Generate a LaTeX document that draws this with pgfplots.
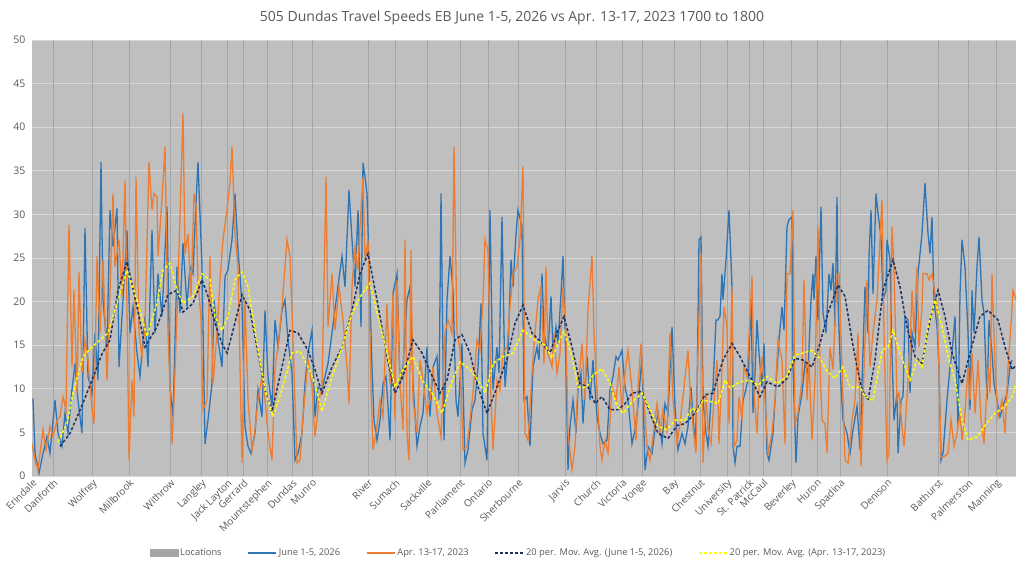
\documentclass[border=0pt]{standalone}
\usepackage{pgfplots}
\pgfplotsset{compat=1.18}
\usepackage{fontspec}
\setmainfont{Open Sans}
\definecolor{bgc}{RGB}{191,191,191}
\definecolor{gridc}{RGB}{217,217,217}
\definecolor{locc}{RGB}{165,165,165}
\definecolor{bluec}{RGB}{46,117,182}
\definecolor{orangec}{RGB}{237,125,49}
\definecolor{navyc}{RGB}{32,48,96}
\definecolor{yellowc}{RGB}{255,255,0}
\definecolor{txtc}{RGB}{89,89,89}
\begin{document}
\begin{tikzpicture}
\useasboundingbox (0,0) rectangle (1024bp,567bp);
\begin{axis}[
  at={(32bp,91bp)}, anchor=south west,
  scale only axis, width=984bp, height=436bp,
  xmin=32, xmax=1016, ymin=0, ymax=50,
  axis background/.style={fill=bgc},
  axis line style={draw=none},
  major tick length=0pt,
  ytick={0,5,...,50},
  /pgf/number format/assume math mode=true,
  ymajorgrids, grid style={gridc, line width=0.8bp},
  xtick={32,53,92,129,170,201,227,243,267,292,312,368,395,427,460,488,518,565,596,622,642,674,700,727,749,763,791,817,840,887,938,968,996},
  xticklabels={Erindale,Danforth,Wolfrey,Millbrook,Withrow,Langley,Jack Layton,Gerrard,Mountstephen,Dundas,Munro,River,Sumach,Sackville,Parliament,Ontario,Sherbourne,Jarvis,Church,Victoria,Yonge,Bay,Chestnut,University,St. Patrick,McCaul,Beverley,Huron,Spadina,Denison,Bathurst,Palmerston,Manning},
  xticklabel style={rotate=45, anchor=north east, font=\fontsize{10bp}{12bp}\selectfont, text=txtc, inner sep=1.5bp},
  yticklabel style={font=\fontsize{10.5bp}{13bp}\selectfont, text=txtc, xshift=-3bp},
  title={505 Dundas Travel Speeds EB June 1-5, 2026 vs Apr. 13-17, 2023 1700 to 1800},
  title style={at={(0.4878,1)}, anchor=center, yshift=16bp, font=\fontsize{14bp}{16bp}\selectfont, text=txtc},
  legend columns=5,
  legend style={at={(0.4944,-0.1766)}, anchor=center, draw=none, fill=none,
    font=\fontsize{9.3bp}{11bp}\selectfont, text=txtc,
    /tikz/every even column/.append style={column sep=24bp}},
  legend image code/.code={\draw[#1] (0bp,0bp) -- (28bp,0bp);},
]
\addplot[ycomb, locc, line width=0.8bp, forget plot] coordinates {
(53,50)(92,50)(129,50)(170,50)(201,50)(227,50)(243,50)(267,50)(292,50)(312,50)(368,50)(395,50)(427,50)(460,50)(488,50)(518,50)(565,50)(596,50)(622,50)(642,50)(674,50)(700,50)(727,50)(749,50)(763,50)(791,50)(817,50)(840,50)(887,50)(938,50)(968,50)(996,50)};
\addlegendimage{legend image code/.code={\fill[locc] (0bp,-3.5bp) rectangle (28bp,3.5bp);}}
\addlegendentry{Locations}
\addplot[bluec, line width=1.3bp] coordinates {
(33,8.9)(35,2.6)(39,0.3)(43,2.6)(47,4.5)(50,2.6)(55,8.7)(58,4.9)(62,3.4)(65,7.2)(68,4.9)(72,9.9)(75,12.9)(78,8.7)(82,4.9)(85,28.4)(88,11.4)(92,9.5)(95,16.4)(98,11)(101,36)(103,20.2)(107,14.8)(110,30.5)(113,26.3)(117,30.7)(119,12.5)(123,20.2)(127,28.2)(130,16.4)(133,19.4)(137,14.1)(140,11.4)(145,18.3)(148,12.5)(152,28.2)(155,16.4)(158,23.2)(162,18.3)(167,30.9)(170,10.2)(173,6.8)(177,24)(180,18.7)(183,26.7)(187,19.4)(190,24)(193,23.2)(196,31.3)(198,36)(202,24)(205,3.7)(208,6.4)(212,10.6)(214,20.2)(218,15.6)(222,12.5)(225,22.9)(228,23.6)(232,27.1)(235,32.4)(238,25.9)(242,19.8)(245,5.7)(248,3.4)(251,2.6)(255,4.9)(258,9.9)(262,6.8)(265,19)(268,11.4)(272,8)(275,17.9)(278,14.8)(282,19)(285,20.2)(288,15.6)(292,11.8)(295,1.8)(298,2.6)(302,4.9)(305,10.6)(308,14.1)(312,16.7)(315,6.8)(318,10.2)(322,9.9)(325,11.4)(328,12.9)(332,16.4)(337,20.9)(342,25.2)(345,21.7)(349,32.8)(352,27.1)(355,21.7)(358,30.5)(361,17.1)(363,35.9)(365,34.3)(367,32.4)(369,24)(372,12.5)(374,6.4)(377,4.1)(380,6.4)(383,10.6)(386,11.4)(388,8)(390,4.1)(393,20.9)(397,23.2)(400,10.6)(403,12.5)(407,20.2)(410,21.7)(413,10.6)(417,3.4)(420,5.7)(423,7.2)(427,14.8)(430,6.8)(433,12.5)(437,13.7)(439,8.7)(441,32.4)(444,4.1)(447,20.2)(450,25.2)(453,21.3)(456,8.7)(458,6.8)(462,15.2)(465,1.5)(468,3)(472,7.6)(475,8.7)(478,12.5)(481,19.8)(483,4.9)(487,1.8)(490,30.5)(493,9.9)(497,14.8)(499,11.8)(502,29.7)(505,10.2)(508,14.4)(511,24.8)(513,21.7)(516,27.8)(518,30.5)(522,28.6)(524,8.7)(527,9.1)(530,3.4)(533,12.5)(537,14.8)(539,13.3)(542,23.2)(544,16.4)(548,14.1)(551,20.6)(553,14.4)(556,17.1)(558,15.2)(561,20.9)(563,25.2)(566,12.5)(568,0.7)(570,5.7)(573,8.7)(576,4.9)(578,9.9)(581,11.8)(583,6)(587,13.7)(590,8.7)(593,13.3)(597,6.8)(600,4.9)(603,3.7)(607,4.1)(610,9.9)(613,11.4)(616,13.7)(618,13.3)(622,14.4)(625,10.2)(628,8.7)(632,3.7)(635,5.3)(638,8)(642,13.7)(645,0.7)(648,3.4)(652,2.6)(655,5.3)(658,7.2)(662,3.7)(665,8.3)(668,7.2)(672,17.1)(675,8)(678,3)(682,4.9)(685,3.7)(688,5.7)(691,10.2)(693,6.8)(695,3.7)(697,9.1)(699,27.1)(701,27.4)(703,8.7)(706,4.9)(708,3.4)(711,8.7)(713,10.2)(716,17.9)(718,17.9)(720,18.3)(722,23.2)(723,20.2)(726,24.8)(729,30.5)(732,21.7)(733,3.4)(735,1.5)(737,3.4)(740,3.4)(743,8.7)(745,9.5)(748,11)(751,20.2)(753,7.2)(755,11.8)(757,17.9)(759,14.1)(762,10.2)(764,15.2)(767,2.6)(769,1.8)(773,4.9)(776,10.6)(779,15.6)(782,19.4)(784,16.7)(787,28.6)(789,29.4)(792,29.7)(793,12.5)(796,1.5)(798,6.8)(802,9.5)(805,12.9)(808,11.8)(811,20.2)(813,23.2)(814,20.2)(816,25.2)(818,17.9)(821,30.9)(823,18.7)(826,16.4)(829,23.2)(831,21.3)(833,24.4)(835,17.1)(837,32)(838,20.2)(841,10.2)(843,6.4)(847,4.9)(850,2.6)(853,5.3)(857,8)(860,3)(862,10.6)(865,21.7)(868,16.4)(869,25.2)(871,30.5)(873,20.9)(876,32.4)(878,30.1)(881,27.4)(883,20.2)(886,21.3)(887,27.1)(890,24.8)(892,14.1)(894,6.4)(897,9.5)(898,2.6)(901,8.7)(903,9.1)(905,18.3)(908,17.9)(910,9.5)(912,16.4)(915,14.8)(918,23.2)(922,27.8)(925,33.6)(928,27.8)(930,25.5)(932,29.7)(934,20.2)(937,17.1)(939,12.5)(941,1.8)(943,2.6)(947,8.7)(950,12.5)(952,14.1)(955,18.3)(958,5.7)(960,20.9)(962,27.1)(965,24)(968,16.4)(970,7.6)(972,21.3)(974,16.4)(977,24)(979,27.4)(982,20.2)(984,18.7)(987,8.7)(989,17.9)(992,14.1)(994,10.6)(997,8.7)(1000,6.8)(1003,8)(1007,9.5)(1010,12.5)(1012,13.3)};
\addlegendentry{June 1-5, 2026}
\addplot[orangec, line width=1.3bp] coordinates {
(32,3.7)(35,1.8)(38,0.7)(43,5.3)(46,3)(50,5.7)(53,4.5)(57,6.4)(60,6.8)(63,9.1)(66,7.6)(69,28.8)(72,12.5)(74,21.3)(77,9.5)(79,23.4)(82,11.8)(85,15.6)(88,13.3)(92,7.6)(94,6)(97,25.2)(100,16.4)(103,24.8)(107,11)(110,20.9)(113,32.4)(115,24)(119,27.1)(122,20.6)(125,33.9)(127,19.4)(129,1.8)(132,11)(134,6.8)(136,34.3)(139,16.4)(142,13.7)(145,17.1)(149,36)(152,30.5)(154,32.4)(157,32)(158,25.2)(162,31.7)(165,37.8)(168,16.4)(172,3.7)(174,8.7)(177,18.7)(179,25.9)(183,41.6)(185,25.5)(188,27.8)(191,20.6)(194,32.4)(196,30.9)(198,22.5)(201,17.9)(203,7.6)(207,8.7)(210,25.2)(213,10.6)(217,16.4)(220,22.5)(223,27.1)(227,30.5)(230,33.6)(232,37.8)(235,27.8)(238,24)(242,1.5)(245,20.2)(248,8.7)(252,3)(255,5.3)(258,8.7)(262,11.4)(265,8.7)(268,4.9)(272,1.8)(275,12.5)(278,14.8)(282,19.4)(287,27.1)(290,25.2)(293,15.6)(297,1.5)(300,1.8)(303,6.8)(308,13.3)(312,10.2)(315,4.5)(319,8.7)(322,10.2)(326,34.3)(328,17.1)(332,23.2)(335,16.7)(339,21.7)(343,17.9)(347,12.5)(349,8.3)(352,21.7)(355,26.3)(358,23.6)(360,28.6)(363,34.3)(365,24.8)(368,27.1)(371,10.2)(373,3)(377,5.7)(380,8.7)(383,6.8)(387,19.8)(390,10.6)(393,20.9)(395,6.4)(397,22.5)(400,10.6)(403,5.3)(405,27.1)(407,4.9)(409,1.8)(411,25.9)(413,8.7)(417,4.9)(420,13.3)(423,11)(427,7.2)(430,8.7)(433,12.5)(437,7.2)(441,4.5)(445,16.4)(448,17.9)(452,16.4)(454,37.8)(457,16.4)(460,14.4)(463,3)(467,3.4)(470,6.4)(473,9.5)(477,15.6)(480,14.4)(483,20.2)(485,27.1)(488,25.9)(491,8.7)(493,3)(497,11)(500,9.9)(503,14.1)(507,14.8)(510,19.4)(513,23.2)(517,24)(520,27.1)(523,35.5)(525,4.9)(528,4.1)(532,11.8)(535,16.4)(538,20.2)(541,21.7)(544,12.9)(546,24)(548,14.1)(552,12.5)(554,16.4)(557,11.8)(560,14.1)(563,21.7)(566,16.4)(568,4.9)(572,0.7)(575,3.4)(578,11)(580,12.5)(582,15.2)(585,8.7)(588,19)(592,25.2)(594,16.4)(597,9.9)(600,3.4)(602,1.8)(605,4.1)(608,2.6)(612,10.2)(616,8.7)(619,12.5)(622,7.6)(625,11.8)(628,14.4)(632,9.9)(636,4.1)(638,10.2)(641,15.2)(644,8.7)(647,3.4)(650,1.8)(653,4.5)(657,8.3)(660,4.9)(663,7.6)(667,4.9)(670,16.4)(673,8.7)(677,3.7)(680,6)(683,9.1)(688,14.4)(690,9.9)(693,5.7)(696,2.6)(698,14.4)(701,25.5)(703,1.5)(706,9.5)(708,5.3)(711,3.7)(714,8.7)(717,13.3)(719,3.7)(722,12.5)(724,19.4)(727,17.1)(729,6)(732,21.7)(734,3.4)(737,4.1)(739,9.1)(742,6.4)(744,12.5)(747,11.4)(749,16)(752,22.9)(754,9.5)(757,4.9)(759,10.2)(762,13.7)(765,8.7)(768,2.6)(772,4.9)(775,8.7)(778,15.6)(782,13.3)(785,3.7)(787,23.2)(790,23.2)(793,30.5)(795,6)(798,7.2)(802,11)(804,22.5)(807,8.7)(809,13.3)(812,4.1)(815,11)(818,28.6)(820,12.5)(822,6.4)(825,6)(827,2.6)(830,14.8)(833,12.2)(837,22.9)(839,23.2)(842,12.5)(845,1.8)(848,1.5)(852,6.4)(855,8.7)(858,16.4)(861,1.1)(863,8.7)(867,22.5)(870,12.5)(873,16.4)(877,20.2)(882,31.7)(884,16.4)(887,1.8)(889,2.6)(892,28.6)(894,24)(897,8.7)(899,9.5)(902,5.7)(904,3.4)(908,11)(910,14.8)(912,21.3)(914,16.4)(917,24)(919,14.8)(922,19.4)(923,23.2)(927,23.2)(929,22.5)(932,23.2)(934,21.7)(937,19.4)(939,12.5)(941,2.2)(944,2.2)(948,2.6)(951,6.4)(954,3.4)(957,4.9)(960,7.2)(962,4.1)(965,7.2)(968,12.5)(970,8.7)(972,14.1)(975,7.2)(978,13.3)(981,6.4)(984,3.7)(988,12.5)(990,9.5)(992,23.2)(995,12.5)(998,6.8)(1002,8.7)(1005,4.9)(1008,12.5)(1011,17.5)(1013,21.3)(1016,20.2)};
\addlegendentry{Apr. 13-17, 2023}
\addplot[navyc, line width=1.5bp, dash pattern=on 3bp off 2bp] coordinates {
(60,3.4)(70,4.9)(82,8.1)(92,11)(102,14)(110,15.6)(118,21.3)(127,24.6)(137,19.4)(145,14.8)(157,17.1)(168,20.8)(177,21.3)(183,18.8)(193,19.8)(202,22.5)(208,20.6)(215,17.5)(222,15.2)(227,14.1)(233,16.7)(242,20.8)(250,19)(258,14.1)(265,9.9)(272,7.4)(282,12.5)(290,16.7)(298,16.4)(308,14.4)(315,12.2)(322,9.5)(332,12.5)(342,14.8)(352,19)(360,23.2)(368,25.5)(377,20.2)(387,13.7)(395,9.5)(403,11.4)(413,15.6)(422,14.1)(430,12)(440,9.5)(447,11)(455,15.6)(462,16.2)(470,14.1)(478,10.2)(487,7.2)(497,10.2)(507,13.4)(515,17.5)(523,19.6)(532,16.4)(542,15.2)(550,14.1)(557,16.4)(564,18.3)(572,14.8)(580,10.6)(588,10.2)(595,8.3)(602,9.1)(610,7.6)(618,7.6)(625,8.3)(632,9.5)(642,9.7)(650,7.2)(658,4.9)(668,4.3)(677,5.8)(685,6)(695,7.2)(705,9.3)(713,9.5)(723,13.3)(732,15.2)(740,13.7)(750,11.4)(760,9.1)(767,10.8)(778,10.2)(787,11.2)(795,13.5)(803,13.3)(812,12.5)(820,15.2)(828,18.7)(838,21.9)(845,20.6)(852,15.6)(857,12.5)(862,9.9)(868,8.7)(875,13.3)(883,21.3)(893,24.8)(900,21.7)(907,17.1)(915,13.7)(922,12.9)(930,17.9)(938,21.3)(945,18.3)(952,14.1)(962,10.6)(970,14.1)(980,18.3)(988,19)(998,17.9)(1005,14.8)(1012,12.2)(1016,12.7)};
\addlegendentry{20 per. Mov. Avg. (June 1-5, 2026)}
\addplot[yellowc, line width=1.5bp, dash pattern=on 3bp off 2bp] coordinates {
(58,3.9)(67,6)(73,9.5)(83,13.7)(92,14.8)(102,15.8)(108,16.4)(117,19.8)(127,23.6)(137,20.2)(147,16)(157,19.8)(163,23.6)(170,24.4)(177,21.3)(183,19.8)(193,20.6)(202,23.2)(210,22.5)(215,18.3)(222,16.7)(228,18.3)(235,22.5)(242,23.4)(248,21.7)(257,15.2)(265,9.9)(273,6.8)(282,9.9)(292,14.1)(300,14.3)(308,12.5)(315,10.6)(322,7.4)(330,10.6)(342,14.8)(352,18.7)(362,20.9)(370,22.1)(378,18.3)(387,14.1)(395,10.2)(403,12.2)(413,13.7)(422,11)(432,9.5)(442,7.2)(450,10.2)(460,13.1)(470,12.2)(478,11)(485,9.5)(493,12.9)(503,13.7)(513,14.1)(523,16.7)(535,15.6)(545,15)(552,13.5)(558,15.2)(564,16.6)(572,13.7)(578,10.2)(587,10.2)(593,11.6)(602,12.3)(610,10.6)(617,8)(623,7.2)(632,8.5)(642,9.5)(650,7.6)(658,5.7)(667,5.3)(675,6.4)(685,6.4)(692,7.8)(697,7.4)(703,8.7)(712,8.5)(718,8.3)(725,11)(730,10.1)(740,10.8)(750,11)(758,10.4)(767,11.4)(777,10.6)(787,11.4)(795,13.9)(803,14.1)(812,14.4)(820,13.5)(827,12)(835,11.2)(843,12.5)(850,10.2)(860,10.2)(865,9.1)(873,8.7)(882,14.4)(888,14.8)(893,16.7)(900,14.1)(910,11)(917,13.3)(922,12.5)(928,17.1)(935,20.2)(942,17.1)(948,13.7)(955,11)(962,6.4)(968,4.1)(977,4.5)(985,5.8)(995,7.2)(1005,8)(1012,9.1)(1016,10.6)};
\addlegendentry{20 per. Mov. Avg. (Apr. 13-17, 2023)}
\end{axis}
\end{tikzpicture}
\end{document}
